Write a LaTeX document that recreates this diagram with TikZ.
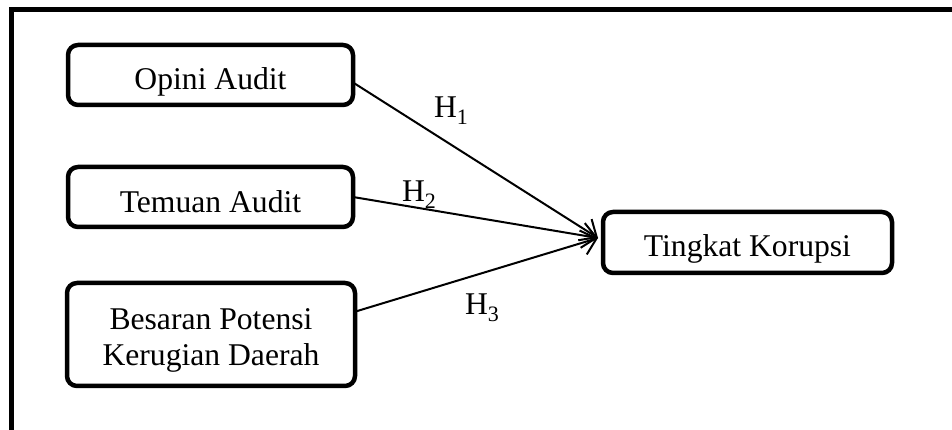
\documentclass[tikz,border=0pt]{standalone}
\usepackage{fontspec}
\setmainfont{Liberation Serif}
\usetikzlibrary{arrows.meta}

\newcommand{\hyp}[1]{H\raisebox{-0.13cm}{\fontsize{12.5}{12.5}\selectfont #1}}

\begin{document}
\begin{tikzpicture}[every node/.style={outer sep=0pt, inner sep=0pt, font=\fontsize{18}{20.5}\selectfont},
  box/.style={draw, line width=0.09cm, rounded corners=0.2cm, minimum width=5.7cm, minimum height=1.2cm, align=center, text depth=0pt},
  link/.style={line width=0.04cm, -{Straight Barb[length=0.28cm,width=0.5cm]}}]
\useasboundingbox (0,0) rectangle (19.04,8.6);
\draw[line width=0.1cm] (19.04,8.41) -- (0.23,8.41) -- (0.23,0);

\node[box, text height=17pt] (op) at (4.21,7.10) {Opini Audit};
\node[box, text height=18.2pt] (tm) at (4.21,4.66) {Temuan Audit};
\node[box, text height=35.8pt, minimum width=5.76cm, minimum height=2.06cm] (bp) at (4.22,1.91) {Besaran Potensi\\Kerugian Daerah};
\node[box, text height=15.4pt, minimum width=5.78cm, minimum height=1.22cm] (tk) at (14.95,3.75) {Tingkat Korupsi};

\coordinate (hub) at (11.96,3.84);
\draw[link] (op.-3) -- (hub);
\draw[link] (tm.east) -- (hub);
\draw[link] (bp.9) -- (hub);

\node[anchor=base west] (h1) at (8.68,6.24) {\hyp{1}};
\node[anchor=base west] (h2) at (8.04,4.56) {\hyp{2}};
\node[anchor=base west] (h3) at (9.30,2.30) {\hyp{3}};
\end{tikzpicture}
\end{document}
